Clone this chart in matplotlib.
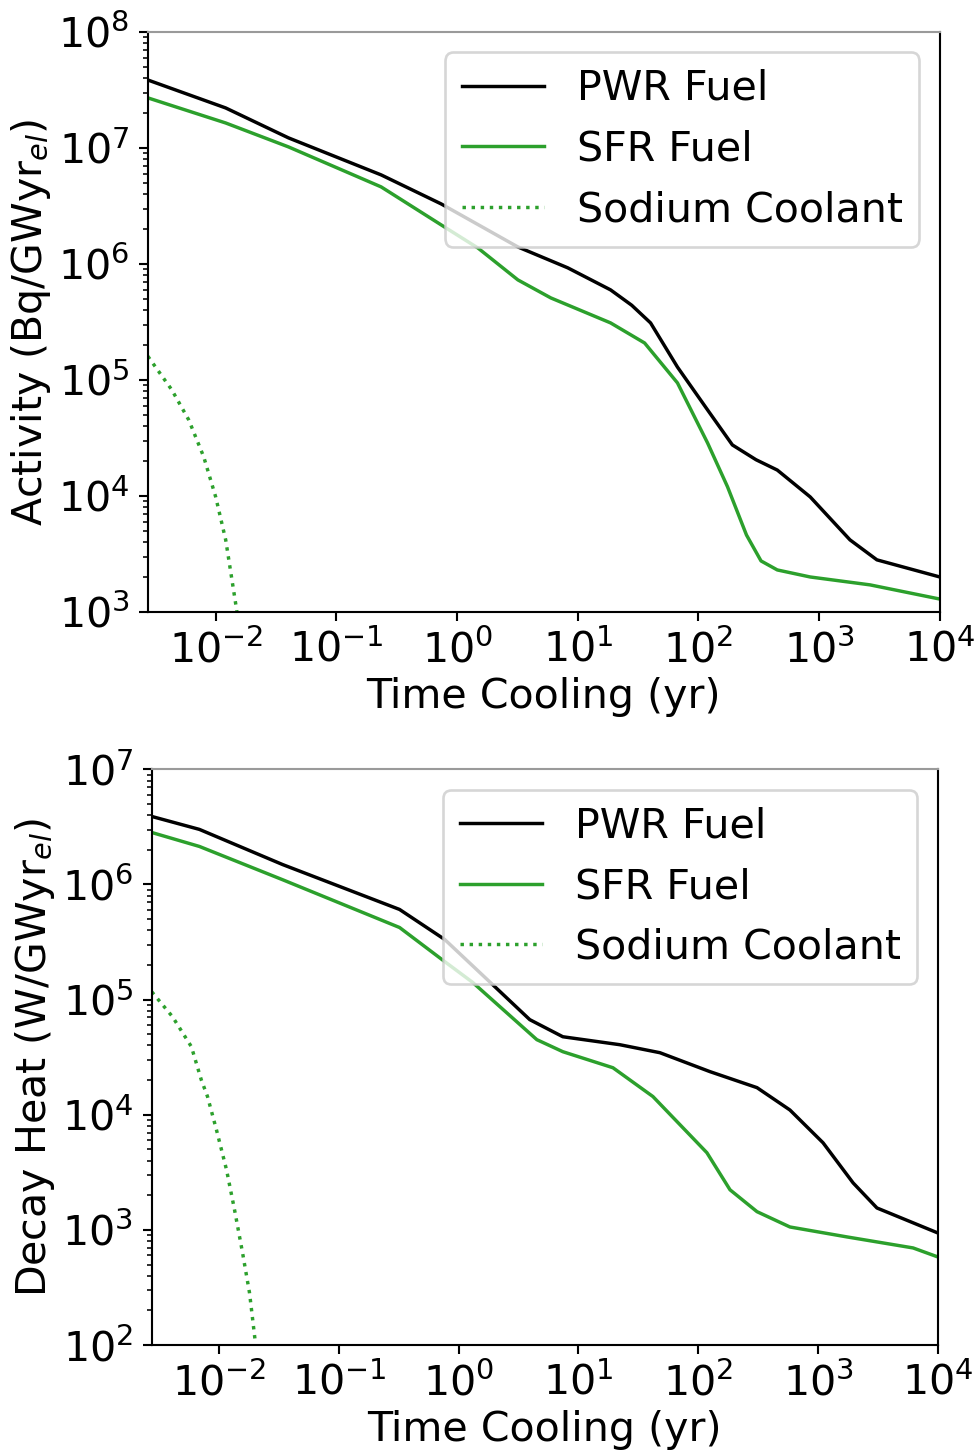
import numpy as np
import matplotlib
matplotlib.use("Agg")
import matplotlib.pyplot as plt
from matplotlib.ticker import NullLocator, FixedLocator

# --- values (time in yr) ---
XMIN, XMAX = 1 / 365, 1e4
x_ticks = [1e-2, 1e-1, 1e0, 1e1, 1e2, 1e3, 1e4]

# activity, Bq/GWyr_el
act_pwr_t = [0.00274, 0.0121, 0.0401, 0.235, 0.738, 3.19, 8.26, 18.7, 28.0, 40.1, 67.0,
             119, 191, 300, 450, 843, 1800, 3010, 1e4]
act_pwr = [3.85e7, 2.21e7, 1.22e7, 5.85e6, 3.29e6, 1.40e6, 9.25e5, 5.97e5, 4.4e5, 3.10e5, 1.29e5,
           5.51e4, 2.75e4, 2.05e4, 1.67e4, 9.8e3, 4.18e3, 2.81e3, 2.0e3]

act_sfr_t = [0.00274, 0.0121, 0.0401, 0.235, 0.738, 1.49, 3.19, 5.98, 18.7, 35.8, 67.0,
             119, 174, 250, 330, 450, 843, 2640, 1e4]
act_sfr = [2.70e7, 1.64e7, 1.02e7, 4.61e6, 2.17e6, 1.37e6, 7.28e5, 5.09e5, 3.10e5, 2.08e5,
           9.42e4, 2.86e4, 1.20e4, 4.6e3, 2.75e3, 2.30e3, 2.0e3, 1.71e3, 1.29e3]

act_na_t = [0.00274, 0.00433, 0.00598, 0.00796, 0.0100, 0.0121, 0.0146, 0.0158]
act_na = [1.6e5, 8.2e4, 4.52e4, 2.17e4, 9.8e3, 4.18e3, 1.2e3, 7.0e2]

# decay heat, W/GWyr_el
heat_pwr_t = [0.00274, 0.00685, 0.0339, 0.321, 0.764, 1.92, 3.92, 7.40, 22.1, 47.8,
              125, 309, 582, 1100, 1960, 3100, 1e4]
heat_pwr = [3.90e6, 3.01e6, 1.49e6, 6.07e5, 3.33e5, 1.35e5, 6.70e4, 4.76e4, 4.06e4, 3.46e4,
            2.37e4, 1.72e4, 1.10e4, 5.71e3, 2.56e3, 1.55e3, 9.4e2]

heat_sfr_t = [0.00274, 0.00685, 0.0339, 0.321, 0.764, 1.31, 4.49, 7.40, 19.4, 41.8,
              118, 184, 309, 582, 1740, 6210, 1e4]
heat_sfr = [2.83e6, 2.14e6, 1.10e6, 4.23e5, 2.14e5, 1.41e5, 4.49e4, 3.53e4, 2.56e4, 1.44e4,
            4.68e3, 2.23e3, 1.44e3, 1.06e3, 8.69e2, 6.97e2, 5.82e2]

heat_na_t = [0.00274, 0.00408, 0.00587, 0.0071, 0.0080, 0.0095, 0.01153, 0.01346,
             0.0157, 0.01795, 0.0201]
heat_na = [1.17e5, 7.11e4, 3.90e4, 2.01e4, 1.44e4, 7.41e3, 3.33e3, 1.49e3,
           631, 283, 104]

GREEN = "#2ca02c"
LW = 1.3

plt.rcParams["font.size"] = 15.6

fig = plt.figure(figsize=(979 / 190, 1450 / 190), dpi=190)
ax1 = fig.add_axes([0.151, 0.578, 0.809, 0.400])
ax2 = fig.add_axes([0.155, 0.0724, 0.803, 0.397])

panels = [
    (ax1, act_pwr_t, act_pwr, act_sfr_t, act_sfr, act_na_t, act_na,
     (1e3, 1e8), "Activity (Bq/GWyr$_{el}$)"),
    (ax2, heat_pwr_t, heat_pwr, heat_sfr_t, heat_sfr, heat_na_t, heat_na,
     (1e2, 1e7), "Decay Heat (W/GWyr$_{el}$)"),
]

for ax, pt, pv, st, sv, nt, nv, ylim, ylabel in panels:
    ax.loglog(pt, pv, color="black", lw=LW, label="PWR Fuel")
    ax.loglog(st, sv, color=GREEN, lw=LW, label="SFR Fuel")
    ax.loglog(nt, nv, color=GREEN, lw=LW, ls=":", label="Sodium Coolant")
    ax.set_xlim(XMIN, XMAX)
    ax.set_ylim(*ylim)
    ax.xaxis.set_major_locator(FixedLocator(x_ticks))
    ax.xaxis.set_minor_locator(NullLocator())
    ax.set_xlabel("Time Cooling (yr)", labelpad=2)
    ax.set_ylabel(ylabel, labelpad=2)
    ax.spines["top"].set_color("#9a9a9a")
    ax.legend(loc="upper right")

fig.savefig("out.png", dpi=190)
